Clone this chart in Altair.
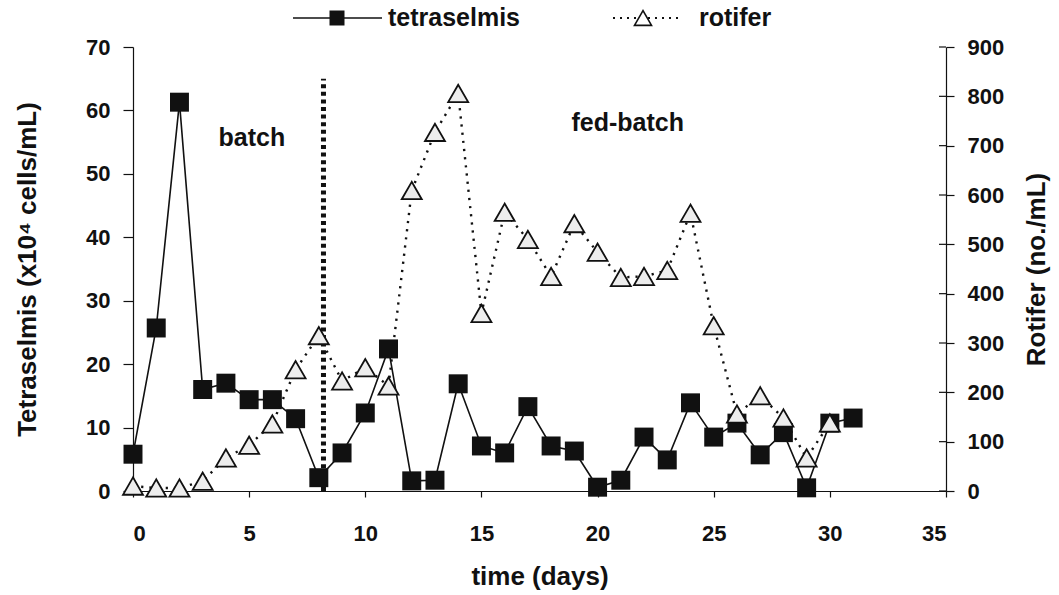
import altair as alt
import pandas as pd

# ---------------- data ----------------
days_tet = list(range(32))
tetraselmis = [5.8, 25.7, 61.3, 16.0, 17.0, 14.4, 14.4, 11.4, 2.1, 6.0,
               12.3, 22.4, 1.6, 1.7, 16.9, 7.1, 6.0, 13.3, 7.1, 6.3,
               0.6, 1.7, 8.5, 4.9, 13.9, 8.5, 10.7, 5.7, 9.2, 0.5,
               10.7, 11.5]
days_rot = list(range(31))
rotifer = [10, 6, 6, 20, 67, 93, 136, 246, 315, 223,
           250, 213, 609, 727, 806, 360, 565, 510, 435, 542,
           484, 433, 435, 447, 563, 335, 156, 193, 148, 67,
           138]

x_ticks = [0, 5, 10, 15, 20, 25, 30, 35]
left_ticks = [0, 10, 20, 30, 40, 50, 60, 70]
right_ticks = [0, 100, 200, 300, 400, 500, 600, 700, 800, 900]

phase_day = [8.2]
phase_bottom = [0]
phase_top = [65]

annot_labels = ["batch", "fed-batch"]
annot_day = [5.12, 21.3]
annot_val = [55.6, 58.0]

legend_names = ["tetraselmis", "rotifer"]

FONT = "Liberation Sans"
INK = "#111111"
W, H = 813, 444

tet_df = pd.DataFrame({"day": days_tet, "tet": tetraselmis})
rot_df = pd.DataFrame({"day": days_rot, "rot": rotifer})
rtick_df = pd.DataFrame({"rot": right_ticks})
phase_df = pd.DataFrame({"day": phase_day, "tet": phase_bottom, "tet2": phase_top})
annot_df = pd.DataFrame({"day": annot_day, "tet": annot_val, "label": annot_labels})
dummy = pd.DataFrame({"k": [0]})

x_enc = alt.X(
    "day:Q",
    scale=alt.Scale(domain=[0, 35], nice=False, zero=False),
    axis=alt.Axis(values=x_ticks, title="time (days)", tickSize=6,
                  labelPadding=26, titlePadding=19, format="d"),
)

left_axis = alt.Axis(values=left_ticks, title="Tetraselmis (x10⁴ cells/mL)",
                     orient="left", tickSize=10, labelPadding=13, titlePadding=45,
                     format="d")
y_left = alt.Y("tet:Q", scale=alt.Scale(domain=[0, 70], nice=False), axis=left_axis)

right_axis = alt.Axis(values=right_ticks, title="Rotifer (no./mL)", orient="right",
                      tickSize=8, labelPadding=13, titlePadding=20,
                      titleAngle=270, titleBaseline="top", format="d")
y_right = alt.Y("rot:Q", scale=alt.Scale(domain=[0, 900], nice=False), axis=right_axis)

tet_line = alt.Chart(tet_df).mark_line(color=INK, strokeWidth=1.6).encode(x=x_enc, y=y_left)
tet_pts = alt.Chart(tet_df).mark_point(
    shape="square", size=360, filled=True, color=INK, opacity=1
).encode(x=x_enc, y=y_left)

phase_line = alt.Chart(phase_df).mark_rule(
    color=INK, strokeWidth=5, strokeDash=[4, 3.6]
).encode(x=x_enc, y=y_left, y2="tet2:Q")

annot = alt.Chart(annot_df).mark_text(
    font=FONT, fontSize=25, fontWeight="bold", color=INK
).encode(x=x_enc, y=y_left, text="label:N")

# legend (drawn at top, outside the plot area)
leg_y = -29
leg1_line = alt.Chart(dummy).mark_rule(color=INK, strokeWidth=1.6).encode(
    x=alt.value(160), x2=alt.value(249), y=alt.value(leg_y))
leg1_pt = alt.Chart(dummy).mark_point(shape="square", size=225, filled=True,
                                       color=INK, opacity=1).encode(
    x=alt.value(204), y=alt.value(leg_y))
leg1_txt = alt.Chart(dummy).mark_text(font=FONT, fontSize=25, fontWeight="bold",
                                      align="left", baseline="middle", color=INK).encode(
    x=alt.value(255), y=alt.value(leg_y), text=alt.value(legend_names[0]))
leg2_line = alt.Chart(dummy).mark_rule(color=INK, strokeWidth=2, strokeDash=[2, 5]).encode(
    x=alt.value(480), x2=alt.value(545), y=alt.value(leg_y))
leg2_pt = alt.Chart(dummy).mark_point(shape="triangle-up", size=290, filled=True,
                                       fill="white", stroke=INK, strokeWidth=1.6,
                                       opacity=1).encode(
    x=alt.value(510), y=alt.value(leg_y))
leg2_txt = alt.Chart(dummy).mark_text(font=FONT, fontSize=25, fontWeight="bold",
                                      align="left", baseline="middle", color=INK).encode(
    x=alt.value(566), y=alt.value(leg_y), text=alt.value(legend_names[1]))

left_group = alt.layer(tet_line, phase_line, tet_pts, annot,
                       leg1_line, leg1_pt, leg1_txt, leg2_line, leg2_pt, leg2_txt)

rot_line = alt.Chart(rot_df).mark_line(
    color=INK, strokeWidth=2.4, strokeDash=[2.2, 6], strokeCap="butt"
).encode(x=x_enc, y=y_right)
rot_pts = alt.Chart(rot_df).mark_point(
    shape="triangle-up", size=400, filled=True, fill="#ededed", stroke=INK,
    strokeWidth=1.8, opacity=1
).encode(x=x_enc, y=y_right)
# inner half of the crossing ticks on the right axis
rot_inner_ticks = alt.Chart(rtick_df).mark_rule(color=INK, strokeWidth=1.2).encode(
    x=alt.value(W - 7), x2=alt.value(W), y=y_right)

right_group = alt.layer(rot_inner_ticks, rot_line, rot_pts)

chart = (
    alt.layer(left_group, right_group)
    .resolve_scale(y="independent")
    .properties(
        width=W, height=H,
        padding={"left": 133, "top": 47, "right": 113, "bottom": 104},
        autosize=alt.AutoSizeParams(type="none"),
        background="white",
    )
    .configure_view(stroke=None)
    .configure_axis(
        grid=False,
        labelFont=FONT, labelFontSize=22, labelFontWeight="bold", labelColor=INK,
        titleFont=FONT, titleFontSize=26, titleFontWeight="bold", titleColor=INK,
        domainColor=INK, tickColor=INK, domainWidth=1.2, tickWidth=1.2,
    )
)

chart.save("out.html", embed_options={"renderer": "svg", "actions": False})
